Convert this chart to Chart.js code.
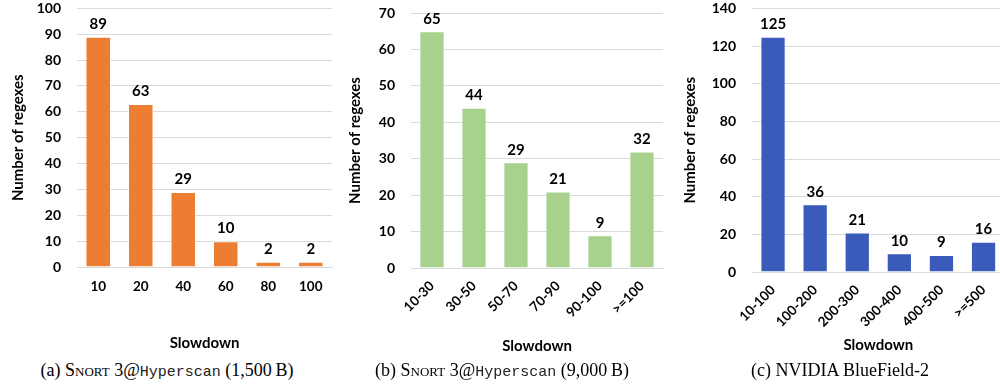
<!DOCTYPE html>
<html>
<head>
<meta charset="utf-8">
<script src="https://cdn.jsdelivr.net/npm/chart.js@4.4.1/dist/chart.umd.min.js"></script>
<style>
  html, body { margin: 0; padding: 0; background: #fff; overflow: hidden; }
  body { width: 1000px; height: 387px; position: relative; }
  .wrap { position: absolute; top: 0; height: 355px; }
  .cap {
    position: absolute; top: 359px; font-family: "Liberation Serif", serif;
    font-size: 18px; line-height: 22px; color: #000; white-space: nowrap; transform: translateX(-50%);
  }
  .cap .sc { font-variant: small-caps; }
  .cap .tt { font-family: "Liberation Mono", monospace; font-size: 15px; color: #222; }
</style>
</head>
<body>
<div class="wrap" style="left:0;width:340px"><canvas id="chartA"></canvas></div>
<div class="wrap" style="left:330px;width:340px"><canvas id="chartB"></canvas></div>
<div class="wrap" style="left:660px;width:345px"><canvas id="chartC"></canvas></div>
<div class="cap" style="left:167px">(a) <span class="sc">Snort</span> 3@<span class="tt">Hyperscan</span> (1,500&#8201;B)</div>
<div class="cap" style="left:502px">(b) <span class="sc">Snort</span> 3@<span class="tt">Hyperscan</span> (9,000&#8201;B)</div>
<div class="cap" style="left:840px">(c) NVIDIA BlueField-2</div>
<script>
  // data
  var labelsA = ["10", "20", "40", "60", "80", "100"];
  var valuesA = [89, 63, 29, 10, 2, 2];
  var labelsB = ["10-30", "30-50", "50-70", "70-90", "90-100", ">=100"];
  var valuesB = [65, 44, 29, 21, 9, 32];
  var labelsC = ["10-100", "100-200", "200-300", "300-400", "400-500", ">=500"];
  var valuesC = [125, 36, 21, 10, 9, 16];

  var FONT = "Lato, 'Open Sans', sans-serif";

  // value labels above each bar
  var barValues = {
    id: "barValues",
    afterDatasetsDraw: function (chart) {
      var ctx = chart.ctx;
      var meta = chart.getDatasetMeta(0);
      ctx.save();
      ctx.font = "bold 15px " + FONT;
      ctx.fillStyle = "#000";
      ctx.textAlign = "center";
      ctx.textBaseline = "bottom";
      meta.data.forEach(function (bar, i) {
        ctx.fillText(chart.data.datasets[0].data[i], bar.x, bar.y - 5);
      });
      ctx.restore();
    }
  };

  function makeChart(id, labels, values, color, opts) {
    var ctx = document.getElementById(id).getContext("2d");
    return new Chart(ctx, {
      type: "bar",
      data: {
        labels: labels,
        datasets: [{
          data: values,
          backgroundColor: color,
          borderColor: "rgba(255,255,255,0.6)",
          borderWidth: 1,
          categoryPercentage: 1,
          barPercentage: 0.6
        }]
      },
      plugins: [barValues],
      options: {
        responsive: true,
        maintainAspectRatio: false,
        animation: false,
        layout: { padding: { top: opts.top, right: opts.right, left: 0, bottom: 0 } },
        plugins: { legend: { display: false }, tooltip: { enabled: false } },
        scales: {
          x: {
            afterFit: function (s) { s.height = opts.xHeight; },
            grid: { display: false, drawTicks: false },
            border: { color: "#d9d9d9", width: 1 },
            ticks: {
              color: "#000",
              font: { family: FONT, size: 13.5, weight: "bold" },
              padding: opts.tickPad,
              maxRotation: opts.rot,
              minRotation: opts.rot
            },
            title: {
              display: true,
              text: "Slowdown",
              color: "#000",
              font: { family: FONT, size: 15, weight: "bold" },
              padding: { top: 0, bottom: opts.titlePad }
            }
          },
          y: {
            min: 0,
            max: opts.max,
            afterFit: function (s) { s.width = opts.yWidth; },
            grid: { color: "#d9d9d9", drawTicks: true, tickLength: 16, tickColor: "rgba(0,0,0,0)" },
            border: { display: false },
            ticks: {
              stepSize: opts.step,
              color: "#000",
              padding: 0,
              font: { family: FONT, size: 14, weight: "bold" }
            },
            title: {
              display: true,
              text: "Number of regexes",
              color: "#000",
              font: { family: FONT, size: 15, weight: "bold" },
              padding: { top: opts.yTitlePad, bottom: 0 }
            }
          }
        }
      }
    });
  }

  makeChart("chartA", labelsA, valuesA, "#ED7D31",
    { top: 8, right: 8, xHeight: 88, yWidth: 77, max: 100, step: 10, rot: 0, tickPad: 12, titlePad: 3, yTitlePad: 9 });
  makeChart("chartB", labelsB, valuesB, "#A9D18E",
    { top: 13, right: 7, xHeight: 87, yWidth: 81, max: 70, step: 10, rot: 45, tickPad: 10, titlePad: 0, yTitlePad: 16 });
  makeChart("chartC", labelsC, valuesC, "#3A5BBA",
    { top: 7, right: 0, xHeight: 83, yWidth: 92, max: 140, step: 20, rot: 45, tickPad: 10, titlePad: 1, yTitlePad: 21 });
</script>
</body>
</html>
